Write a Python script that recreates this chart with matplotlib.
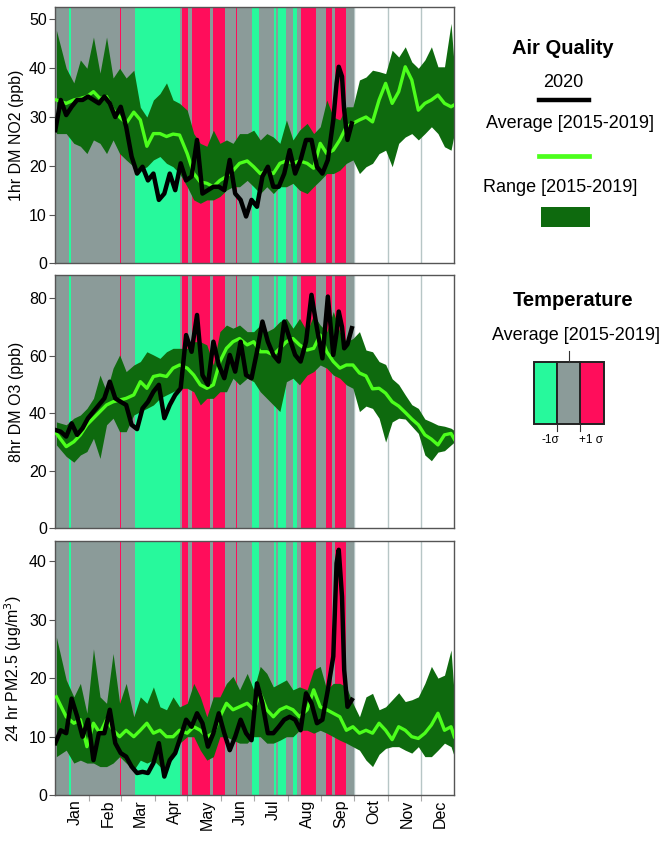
import matplotlib
matplotlib.use("Agg")
import matplotlib.pyplot as plt
from matplotlib.lines import Line2D
from matplotlib.patches import Rectangle

plt.rcParams['font.family'] = ['Liberation Sans', 'DejaVu Sans']

# day of year (2020, leap year) for the 2015-2019 average / range samples
days = [1, 10, 17, 23, 29, 35, 41, 47, 53, 59, 65, 72, 78, 84, 90, 96, 102, 108, 114, 121,
        127, 133, 139, 145, 151, 157, 163, 169, 176, 182, 188, 194, 200, 206, 212, 218, 224, 231, 237, 243,
        249, 255, 261, 267, 273, 279, 285, 291, 297, 303, 309, 315, 321, 327, 333, 339, 345, 351, 357, 363,
        366]

# day of year for the 2020 samples
days_2020 = [0, 5, 10, 15, 20, 25, 30, 35, 40, 45, 50, 55, 60, 65, 70, 75, 80, 85, 90, 95,
             100, 105, 110, 115, 120, 125, 130, 135, 140, 145, 150, 155, 160, 165, 170, 175, 180, 185, 190, 195,
             200, 205, 210, 215, 220, 225, 230, 235, 240, 245, 250, 255, 258, 260, 263, 265, 268, 272]

# NO2 (ppb)
no2_avg = [33.5, 32.8, 33.5, 33.8, 34.2, 35.2, 33.8, 34.2, 31.5, 30.0, 28.7, 31.0, 29.4, 24.0, 26.6, 26.6, 26.0, 26.5, 26.3, 22.5,
           18.4, 16.7, 16.4, 15.7, 17.0, 17.8, 19.0, 20.5, 21.0, 19.8, 18.4, 19.0, 18.4, 20.5, 21.0, 20.5, 21.0, 20.5, 19.5, 24.6,
           22.5, 23.2, 25.3, 28.0, 28.7, 29.4, 30.0, 29.0, 33.5, 36.9, 32.8, 35.2, 40.3, 37.6, 31.4, 32.8, 33.5, 34.5, 32.8, 32.1,
           32.5]
no2_hi = [47.8, 40.0, 37.0, 41.7, 40.0, 46.4, 39.0, 46.4, 38.0, 40.0, 38.0, 39.6, 32.0, 30.0, 33.5, 34.8, 37.0, 33.5, 32.8, 31.4,
          26.6, 24.6, 24.0, 27.3, 24.6, 25.3, 24.6, 26.6, 26.6, 27.3, 25.3, 26.6, 25.9, 24.6, 29.4, 25.3, 27.3, 28.7, 26.6, 28.0,
          33.5, 30.0, 29.4, 32.1, 32.1, 37.6, 38.2, 39.6, 39.3, 38.9, 43.7, 42.3, 44.4, 41.3, 40.0, 41.7, 44.4, 40.3, 40.3, 49.2,
          40.3]
no2_lo = [26.6, 26.6, 24.6, 24.0, 22.5, 25.3, 24.6, 22.5, 25.3, 22.5, 21.2, 19.8, 19.1, 19.8, 21.2, 21.9, 20.5, 19.8, 18.4, 15.7,
          13.0, 12.3, 13.0, 13.0, 13.7, 15.0, 15.7, 15.7, 17.0, 15.7, 14.3, 15.7, 14.3, 15.7, 15.7, 16.4, 15.0, 14.3, 15.7, 17.0,
          18.4, 18.4, 19.1, 20.5, 21.2, 18.4, 19.8, 20.5, 22.5, 23.2, 19.8, 24.6, 25.9, 26.6, 25.3, 26.6, 28.0, 26.6, 23.9, 23.2,
          26.6]
no2_2020 = [27.3, 33.5, 30.4, 32.1, 33.5, 33.5, 34.2, 33.5, 32.8, 34.2, 32.8, 30.0, 32.1, 28.0, 21.9, 18.4, 19.8, 17.0, 18.4, 13.0,
            14.3, 18.4, 15.0, 20.5, 17.0, 17.8, 25.3, 14.3, 15.0, 15.7, 15.7, 15.0, 21.2, 14.3, 13.0, 9.6, 13.0, 11.6, 17.8, 19.8,
            15.7, 15.7, 18.4, 23.2, 18.4, 21.2, 25.3, 25.3, 19.8, 18.4, 21.2, 29.4, 36.9, 40.3, 38.3, 31.4, 25.3, 28.7]

# O3 (ppb)
o3_avg = [33.0, 28.4, 30.1, 32.5, 36.0, 38.3, 40.6, 42.9, 44.0, 44.6, 45.2, 46.4, 51.0, 48.7, 52.8, 53.3, 52.8, 55.7, 56.8, 55.7,
          53.3, 49.9, 48.7, 49.9, 58.0, 62.6, 64.9, 66.0, 63.8, 64.9, 61.4, 61.4, 60.3, 62.6, 64.9, 66.0, 63.8, 62.0, 62.6, 67.2,
          61.4, 58.0, 55.7, 56.8, 56.8, 54.0, 53.0, 48.5, 48.7, 47.0, 44.0, 42.5, 40.3, 38.0, 36.0, 32.5, 31.0, 29.0, 32.5, 33.0,
          31.0]
o3_hi = [37.0, 36.0, 38.3, 39.4, 41.7, 45.2, 53.3, 47.5, 55.7, 60.3, 54.5, 56.8, 58.0, 61.4, 60.3, 59.1, 61.4, 62.6, 62.6, 62.6,
         64.9, 64.9, 63.8, 56.8, 68.4, 70.7, 69.6, 70.7, 68.4, 68.4, 70.7, 68.4, 69.6, 71.9, 73.0, 69.6, 73.0, 68.4, 74.2, 70.7,
         68.4, 75.4, 68.4, 64.9, 66.0, 68.4, 62.0, 61.4, 58.0, 57.0, 52.0, 50.0, 46.4, 43.0, 41.7, 38.0, 37.0, 35.9, 35.5, 34.8,
         34.0]
o3_lo = [29.0, 25.0, 23.0, 25.5, 26.7, 31.3, 24.3, 36.0, 38.3, 33.6, 33.6, 39.4, 40.6, 41.7, 42.9, 45.2, 46.4, 47.5, 48.7, 48.7,
         47.5, 42.9, 45.2, 45.2, 47.5, 47.5, 52.2, 49.9, 52.2, 51.0, 47.5, 45.2, 42.9, 40.6, 51.0, 52.2, 49.9, 53.3, 54.5, 56.8,
         55.7, 53.3, 52.2, 49.9, 48.7, 40.6, 42.5, 41.7, 38.3, 30.0, 37.0, 38.3, 38.0, 35.5, 33.0, 25.5, 23.5, 26.5, 27.0, 29.0,
         30.0]
o3_2020 = [34.2, 33.6, 31.9, 36.5, 32.5, 34.8, 38.3, 40.6, 42.9, 45.2, 51.0, 45.2, 44.0, 42.9, 36.0, 34.5, 41.7, 44.0, 47.5, 49.9,
           38.3, 42.9, 46.4, 48.7, 67.2, 61.4, 74.2, 53.3, 49.9, 64.9, 56.8, 52.2, 60.3, 54.5, 64.9, 53.3, 52.2, 61.4, 71.9, 64.9,
           60.3, 58.0, 71.9, 66.0, 60.3, 58.0, 64.9, 81.2, 69.6, 59.1, 80.6, 60.3, 68.0, 75.4, 70.0, 62.6, 64.0, 69.6]

# PM2.5 (ug/m3)
pm_avg = [16.8, 13.4, 12.3, 12.9, 8.3, 12.3, 10.6, 12.9, 11.1, 10.0, 11.1, 10.0, 11.1, 12.3, 10.6, 11.1, 10.0, 10.0, 11.1, 10.6,
          11.7, 11.1, 10.0, 10.6, 13.4, 15.7, 14.6, 15.1, 15.7, 14.6, 17.4, 14.6, 13.4, 14.6, 15.1, 14.6, 13.4, 14.6, 18.0, 15.1,
          14.6, 14.0, 13.4, 11.1, 11.7, 10.6, 11.1, 10.6, 12.3, 11.1, 9.5, 11.7, 11.1, 10.0, 9.7, 10.6, 12.0, 14.0, 11.1, 11.7,
          10.0]
pm_hi = [27.0, 19.7, 16.8, 19.1, 14.0, 25.0, 16.8, 15.7, 24.2, 15.7, 19.1, 13.4, 16.8, 15.7, 18.5, 15.1, 14.6, 16.8, 15.1, 15.7,
         19.1, 16.8, 13.4, 16.8, 16.8, 19.1, 20.3, 18.0, 20.8, 18.0, 22.0, 20.8, 18.5, 19.1, 19.7, 18.0, 18.5, 18.0, 21.4, 22.0,
         18.0, 19.1, 19.1, 18.5, 15.7, 13.4, 16.8, 17.4, 14.6, 15.1, 16.3, 17.5, 16.0, 16.3, 16.8, 19.1, 22.0, 20.0, 20.5, 24.8,
         17.0]
pm_lo = [6.6, 7.7, 5.5, 6.0, 5.5, 5.5, 4.9, 4.9, 5.5, 6.6, 5.5, 4.3, 6.0, 5.5, 6.0, 4.9, 4.3, 6.6, 8.9, 10.0,
         10.0, 7.7, 6.0, 6.6, 10.0, 10.0, 9.4, 8.9, 8.9, 10.0, 10.0, 8.9, 8.9, 9.4, 10.0, 10.0, 11.1, 11.1, 10.6, 11.1,
         10.6, 10.0, 9.4, 8.9, 8.3, 7.7, 6.0, 4.9, 7.0, 8.0, 8.3, 8.3, 7.7, 7.2, 8.3, 6.6, 6.6, 7.7, 8.9, 8.3,
         6.6]
pm_2020 = [8.9, 11.1, 10.6, 16.5, 13.5, 10.0, 12.9, 6.0, 10.6, 10.6, 14.6, 8.9, 7.2, 6.6, 4.9, 3.8, 4.0, 3.8, 5.5, 8.9,
           3.2, 6.0, 7.2, 10.0, 12.9, 11.7, 14.0, 12.3, 8.3, 10.6, 14.0, 10.6, 7.7, 10.0, 12.9, 10.6, 9.4, 19.1, 15.7, 10.6,
           10.6, 11.7, 12.9, 13.4, 12.9, 11.1, 17.4, 15.7, 12.3, 12.9, 18.0, 23.7, 39.6, 41.9, 33.9, 21.4, 15.1, 16.3]

# 2020 daily temperature vs 2015-2019 average (gray = within 1 sigma up to end of Sept)
temp_end = 274
anom_start = [13, 59, 73, 116, 125, 145, 166, 180, 201, 204, 218, 225, 248, 257]
anom_end = [14, 60, 114, 122, 142, 156, 167, 187, 202, 212, 222, 239, 254, 267]
anom_kind = ['cold', 'warm', 'cold', 'warm', 'warm', 'warm', 'warm', 'cold', 'cold', 'cold', 'cold', 'warm', 'warm', 'warm']

months = ['Jan', 'Feb', 'Mar', 'Apr', 'May', 'Jun', 'Jul', 'Aug', 'Sep', 'Oct', 'Nov', 'Dec']
month_start = [0, 31, 60, 91, 121, 152, 182, 213, 244, 274, 305, 335]

CYAN = '#27f99c'
GRAY = '#8b9b99'
RED = '#ff0d5b'
RANGE = '#0e6a0e'
AVG = '#4cff1c'

W, H = 666, 846
fig = plt.figure(figsize=(W / 100, H / 100), dpi=100)


def box(top, bottom):
    return [55.3 / W, 1 - bottom / H, 399 / W, (bottom - top) / H]


panels = [
    (box(7.3, 263.3), no2_avg, no2_lo, no2_hi, no2_2020, '1hr DM NO2 (ppb)', 52.5, [0, 10, 20, 30, 40, 50]),
    (box(275, 528.3), o3_avg, o3_lo, o3_hi, o3_2020, '8hr DM O3 (ppb)', 88.1, [0, 20, 40, 60, 80]),
    (box(541, 795.3), pm_avg, pm_lo, pm_hi, pm_2020, '24 hr PM2.5 (μg/m$^3$)', 43.4, [0, 10, 20, 30, 40]),
]

for i, (rect, avg, lo, hi, now, ylabel, ymax, yt) in enumerate(panels):
    ax = fig.add_axes(rect)
    for m in month_start[1:]:
        ax.axvline(m, color='#b7c6c6', lw=1, zorder=0)
    ax.axvspan(0, temp_end, color=GRAY, lw=0, zorder=1)
    for s, e, k in zip(anom_start, anom_end, anom_kind):
        ax.axvspan(s, e, color=CYAN if k == 'cold' else RED, lw=0, zorder=1)
    ax.fill_between(days, lo, hi, color=RANGE, lw=0, zorder=2)
    ax.plot(days, avg, color=AVG, lw=2.4, zorder=3)
    ax.plot(days_2020, now, color='black', lw=3.2, zorder=4, solid_joinstyle='round')
    ax.set_xlim(0, 366)
    ax.set_ylim(0, ymax)
    ax.set_yticks(yt)
    ax.set_ylabel(ylabel, fontsize=11.5, labelpad=4)
    ax.tick_params(axis='y', labelsize=11.5, length=4, color='#555555', pad=2)
    for sp in ax.spines.values():
        sp.set_color('#555555')
        sp.set_linewidth(1)
    ax.set_xticks(month_start[1:])
    ax.set_xticks([m + 18 for m in month_start], minor=True)
    if i == 2:
        ax.set_xticklabels([])
        ax.set_xticklabels(months, minor=True, rotation=90, fontsize=11.5, va='top', ha='center')
        ax.tick_params(axis='x', which='major', length=4, color='#aaaaaa')
        ax.tick_params(axis='x', which='minor', length=0, pad=3)
    else:
        ax.tick_params(axis='x', which='both', length=0, labelbottom=False)


def fx(px):
    return px / W


def fy(py):
    return 1 - py / H


# Air quality legend
fig.text(fx(562.5), fy(48), 'Air Quality', fontsize=14.5, fontweight='bold', ha='center', va='center')
fig.text(fx(563), fy(82.5), '2020', fontsize=13, ha='center', va='center')
fig.add_artist(Line2D([fx(539), fx(589)], [fy(100), fy(100)], color='black', lw=3.2))
fig.text(fx(570), fy(124), 'Average [2015-2019]', fontsize=13, ha='center', va='center')
fig.add_artist(Line2D([fx(539), fx(589)], [fy(156.5), fy(156.5)], color=AVG, lw=3.4))
fig.text(fx(560.5), fy(188), 'Range [2015-2019]', fontsize=13, ha='center', va='center')
fig.add_artist(Rectangle((fx(540.7), fy(226.7)), fx(49.3), 20 / H, color=RANGE, lw=0))

# Temperature legend
fig.text(fx(573), fy(300), 'Temperature', fontsize=14.5, fontweight='bold', ha='center', va='center')
fig.text(fx(576.5), fy(335), 'Average [2015-2019]', fontsize=13, ha='center', va='center')
fig.add_artist(Line2D([fx(569), fx(569)], [fy(351.5), fy(361.7)], color='#333333', lw=0.8))
for x0, c in zip([534, 557.3, 580.3], [CYAN, GRAY, RED]):
    fig.add_artist(Rectangle((fx(x0), fy(424)), fx(23.3), 62.3 / H, facecolor=c,
                             edgecolor='#222222', lw=1.4))
for xt in [557.3, 580.3]:
    fig.add_artist(Line2D([fx(xt), fx(xt)], [fy(424), fy(431)], color='#333333', lw=0.8))
fig.text(fx(550), fy(440), '-1σ', fontsize=8.5, ha='center', va='center')
fig.text(fx(591), fy(440), '+1 σ', fontsize=8.5, ha='center', va='center')

fig.savefig('out.png', dpi=100)
